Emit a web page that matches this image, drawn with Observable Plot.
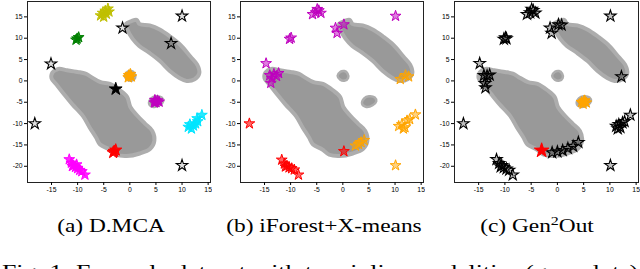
<!DOCTYPE html>
<html><head><meta charset="utf-8">
<script src="https://cdn.jsdelivr.net/npm/d3@7"></script>
<script src="https://cdn.jsdelivr.net/npm/@observablehq/plot@0.6"></script>
<style>
body{margin:0;background:#fff;}
#wrap{position:relative;width:640px;height:269px;overflow:hidden;background:#fff;}
.panel{position:absolute;top:0;}
#cap{position:absolute;left:0;top:0;pointer-events:none;}
</style></head><body><div id="wrap"></div>
<script>
// ---- shared axes ----
const xTicks = [-15, -10, -5, 0, 5, 10, 15];
const yTicks = [-20, -15, -10, -5, 0, 5, 10, 15];
const xDomain = [-19.6, 15.45];
const yDomain = [-23.8, 18.6];

// ---- inlier modalities (grey dots), outlines ----
const lowerBlob = [[-14.8,2.0],[-13.7,2.8],[-12,2.5],[-10,2.1],[-8.5,1.7],[-7.5,1.0],[-5.6,-0.3],[-3.8,-0.7],[-1.9,-2.2],[-0.5,-3.8],[0.1,-6.1],[1.4,-8.1],[2.9,-10.0],[4.3,-11.7],[4.7,-14],[3.9,-15.9],[1.9,-17.0],[-0.6,-17.6],[-2.6,-17.3],[-4.0,-16.0],[-5.7,-14.9],[-6.5,-13.2],[-7.7,-10.9],[-9.0,-8.2],[-11.0,-5.5],[-12.6,-3.1],[-14.1,-0.8],[-15.0,0.6]];
const upperBlob = [[-0.7,13.4],[0.3,14.0],[1.3,14.3],[1.9,13.3],[3.8,13.0],[5.8,12.0],[7.7,10.4],[9.7,8.4],[11.6,5.7],[12.9,3.8],[13.3,1.8],[12.4,0.4],[10.9,0.0],[9.5,0.7],[7.6,2.4],[5.7,4.7],[3.7,6.6],[1.8,8.2],[0.5,9.9],[-0.4,11.8]];
const smallBlob1 = [[-1.0,1.2],[-0.5,2.1],[0.3,2.3],[0.9,1.7],[1.0,0.7],[0.4,0.1],[-0.5,0.3]];
const smallBlob2 = [[3.7,-5.4],[4.1,-4.1],[5.0,-3.6],[6.1,-3.9],[6.4,-4.8],[5.7,-5.7],[4.5,-6.1]];

// ---- (a) D.MCA ----
const aOlive = [[-5.6,15.3],[-5.2,15.9],[-4.7,16.4],[-4.2,16.9],[-4.5,15.7],[-4.0,16.2],[-5.0,15.0]];
const aGreen = [[-10.1,9.9],[-9.8,10.2],[-10.3,9.6]];
const aOrange = [[-0.2,1.3],[0.3,1.0],[0.1,1.6],[-0.3,0.8]];
const aPurple = [[4.7,-5.1],[5.3,-4.6],[5.0,-5.0],[5.6,-4.9],[4.8,-4.5]];
const aCyan = [[11.2,-10.8],[11.8,-11.2],[12.2,-10.5],[12.6,-10.0],[13.0,-9.5],[12.9,-8.8],[13.8,-8.0],[11.5,-10.2]];
const aRed = [[-3.0,-16.5],[-2.7,-16.2],[-3.2,-16.8]];
const aMagenta = [[-11.6,-18.4],[-11.2,-19.2],[-10.8,-19.8],[-10.4,-20.2],[-10.0,-20.5],[-9.6,-20.9],[-9.2,-21.2],[-8.6,-22.0],[-11.0,-20.0],[-10.2,-19.6]];
const aBlackLone = [[-1.4,12.4],[10.0,15.2],[7.9,8.8],[-15.1,4.0],[-18.2,-10.0],[10.0,-19.8]];
const aBlackBold = [[-2.7,-1.9]];

// ---- (b) iForest+X-means ----
const bPurple = [[-5.8,15.6],[-5.2,16.0],[-4.6,16.5],[-4.2,15.9],[-4.9,16.8],[10.1,15.2],[-1.4,12.4],[-1.1,11.2],[0.2,13.2],[-9.9,10.1],[-10.2,9.8],[-14.7,4.1],[-14.0,1.3],[-13.2,1.6],[-12.3,1.8],[-13.6,0.6],[-13.8,-0.5],[-12.7,1.1]];
const bOrange = [[12.0,1.3],[11.0,0.4],[12.6,1.0],[10.7,-10.6],[11.3,-10.2],[11.9,-10.9],[12.3,-9.3],[12.8,-9.0],[13.9,-7.9],[11.6,-11.2],[2.4,-15.2],[3.0,-14.8],[3.5,-14.4],[4.1,-13.9],[10.1,-19.8]];
const bRed = [[0.2,-16.5],[-11.7,-18.5],[-11.2,-19.4],[-10.7,-19.9],[-10.3,-20.3],[-9.8,-20.5],[-9.3,-20.8],[-8.5,-22.0],[-11.0,-20.1],[-17.9,-10.0]];

// ---- (c) Gen2Out ----
const cBlack = [[-5.8,15.6],[-5.2,16.0],[-4.6,16.5],[-4.2,15.9],[-4.9,16.8],[10.1,15.2],[-1.4,12.4],[-1.1,11.2],[0.2,13.2],[0.8,13.1],[-9.9,10.1],[-10.2,9.8],[-9.7,9.9],[-14.8,4.1],[-14.0,1.3],[-13.4,1.2],[-12.9,1.4],[-13.8,-0.6],[-13.7,-1.6],[12.2,1.0],[11.2,-10.6],[11.7,-10.2],[12.0,-10.9],[12.4,-9.8],[11.5,-11.2],[12.8,-9.5],[13.9,-8.0],[-17.9,-10.0],[-11.6,-18.4],[-11.1,-19.3],[-10.6,-19.8],[-10.2,-20.3],[-9.7,-20.6],[-9.2,-20.9],[-8.5,-22.0],[-10.8,-20.1],[10.1,-19.8],[-1.0,-16.8],[0.0,-16.6],[1.0,-16.3],[2.0,-15.8],[3.0,-15.3],[4.0,-14.4]];
const cRedBig = [[-3.0,-16.3]];
const cOrange = [[4.6,-5.0],[5.2,-4.6],[5.5,-5.1],[4.9,-5.4],[5.0,-4.8]];

// ---- captions ----
const captions = [
  {label: "(a)", name: "D.MCA", sup: null, rest: null},
  {label: "(b)", name: "iForest+X-means", sup: null, rest: null},
  {label: "(c)", name: "Gen", sup: "2", rest: "Out"}
];
const figCaption = "Fig. 1: Example dataset with two inlier modalities (grey dots)";

// ---- drawing ----
const X = d => d[0], Y = d => d[1];
const fmt = d => (d < 0 ? "-" : "") + Math.abs(d);
function blobMarks() {
  const st = {x: X, y: Y, fill: "#999999", stroke: "#adadad", strokeWidth: 4, curve: "catmull-rom-closed"};
  return [
    Plot.line(lowerBlob, st),
    Plot.line(upperBlob, st),
    Plot.line(smallBlob1, {...st, strokeWidth: 2.5}),
    Plot.line(smallBlob2, {...st, strokeWidth: 2.5})
  ];
}
function stars(data, color, opts = {}) {
  return Plot.dot(data, {x: X, y: Y, symbol: "star", r: opts.r ?? 3.4, fill: color,
    fillOpacity: opts.fillOpacity ?? 0.45, stroke: opts.stroke ?? color, strokeWidth: opts.strokeWidth ?? 1});
}
function panel(left, frameLeft, frameRight, marks) {
  const p = Plot.plot({
    width: frameRight - left + 2, height: 200,
    marginLeft: frameLeft - left, marginRight: 2, marginTop: 1, marginBottom: 18,
    x: {domain: xDomain, axis: null},
    y: {domain: yDomain, axis: null},
    style: {fontFamily: "Liberation Sans, Arial, sans-serif", fontSize: "6.8px", background: "transparent", color: "black"},
    marks: [
      ...blobMarks(),
      ...marks,
      Plot.frame({stroke: "#222", strokeWidth: 1}),
      Plot.axisX(xTicks, {tickSize: 3, tickPadding: 2, label: null, tickFormat: fmt}),
      Plot.axisY(yTicks, {tickSize: 3, tickPadding: 2, label: null, tickFormat: fmt})
    ]
  });
  p.classList.add("panel");
  p.style.left = left + "px";
  return p;
}

const wrap = document.getElementById("wrap");
wrap.appendChild(panel(0, 27, 210, [
  stars(aOlive, "#bfbf00", {fillOpacity: 0.85}),
  stars(aGreen, "#008000", {fillOpacity: 0.85}),
  stars(aOrange, "#ffa500", {fillOpacity: 0.85}),
  stars(aPurple, "#bf00bf", {fillOpacity: 0.85}),
  stars(aCyan, "#00e5ff", {fillOpacity: 0.85}),
  stars(aRed, "#ff0000", {fillOpacity: 0.9, r: 3.8}),
  stars(aMagenta, "#ff00ff", {fillOpacity: 0.85}),
  stars(aBlackLone, "black", {fillOpacity: 0.12, strokeWidth: 1.1, r: 3.6}),
  stars(aBlackBold, "black", {fillOpacity: 1, r: 4})
]));
wrap.appendChild(panel(213, 240, 423, [
  stars(bPurple, "#bf00bf", {fillOpacity: 0.5}),
  stars(bOrange, "#ffa500", {fillOpacity: 0.5}),
  stars(bRed, "#ff0000", {fillOpacity: 0.6})
]));
wrap.appendChild(panel(426, 454, 638, [
  stars(cBlack, "black", {fillOpacity: 0.25, strokeWidth: 1.1, r: 3.6}),
  stars(cOrange, "#ffa500", {fillOpacity: 0.85}),
  stars(cRedBig, "#ff0000", {fillOpacity: 1, r: 4.6})
]));

// caption overlay
const ns = "http://www.w3.org/2000/svg";
const svg = document.createElementNS(ns, "svg");
svg.setAttribute("id", "cap");
svg.setAttribute("width", 640); svg.setAttribute("height", 269);
const centers = [111, 324, 537];
captions.forEach((c, i) => {
  const t = document.createElementNS(ns, "text");
  t.setAttribute("transform", `translate(${centers[i]},232) scale(1.23,1)`);
  t.setAttribute("text-anchor", "middle");
  t.setAttribute("font-family", "Liberation Serif, Times New Roman, serif");
  t.setAttribute("font-size", "19");
  t.setAttribute("fill", "black");
  const s1 = document.createElementNS(ns, "tspan");
  s1.textContent = c.label + " " + c.name;
  t.appendChild(s1);
  if (c.sup) {
    const s2 = document.createElementNS(ns, "tspan");
    s2.setAttribute("dy", "-7"); s2.setAttribute("font-size", "13");
    s2.textContent = c.sup;
    const s3 = document.createElementNS(ns, "tspan");
    s3.setAttribute("dy", "7");
    s3.textContent = c.rest;
    t.appendChild(s2); t.appendChild(s3);
  }
  svg.appendChild(t);
});
const f = document.createElementNS(ns, "text");
f.setAttribute("x", 2);
f.setAttribute("y", 277.5);
f.setAttribute("textLength", 636);
f.setAttribute("lengthAdjust", "spacingAndGlyphs");
f.setAttribute("font-family", "Liberation Serif, Times New Roman, serif");
f.setAttribute("font-size", "19");
f.setAttribute("fill", "black");
f.textContent = figCaption;
svg.appendChild(f);
wrap.appendChild(svg);
</script></body></html>
